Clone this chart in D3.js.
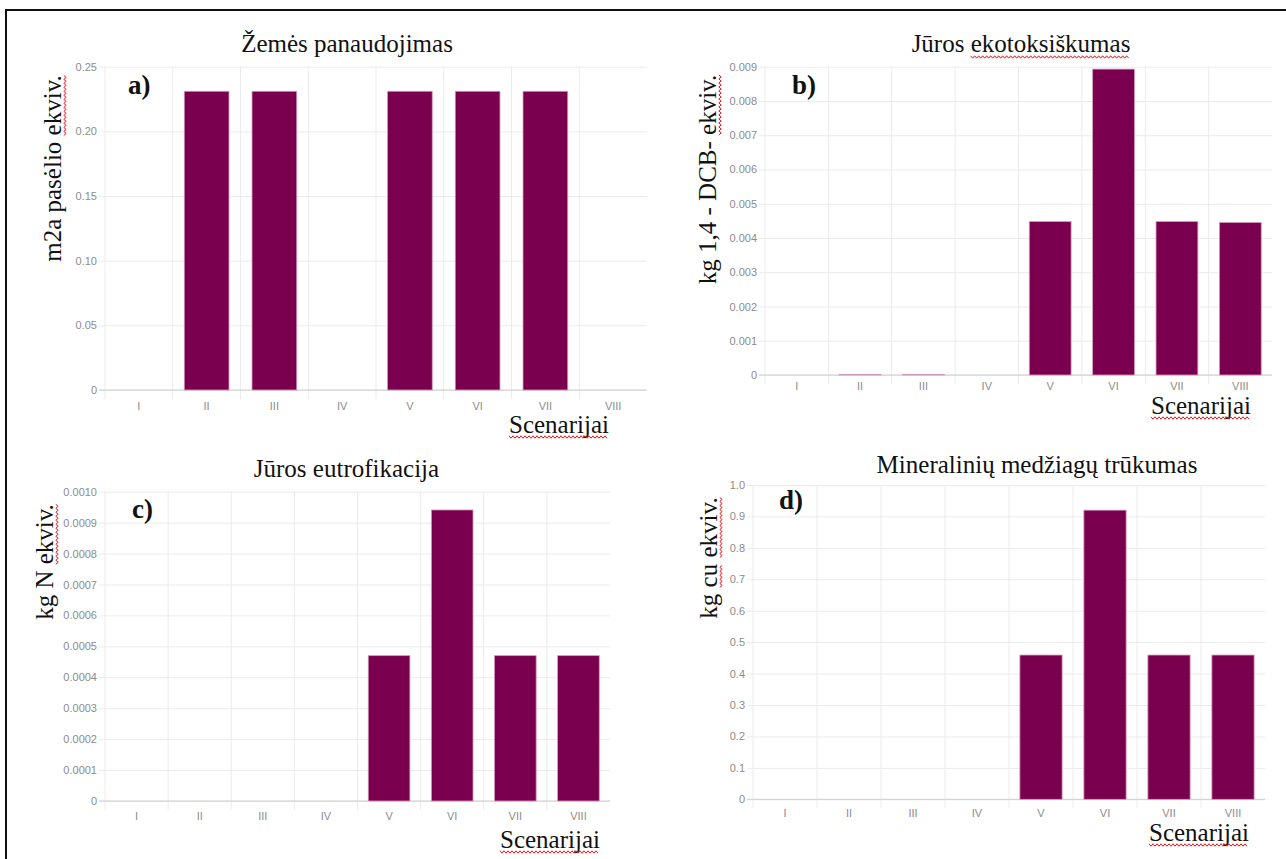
<!DOCTYPE html><head><meta charset="utf-8">
<title>LCA scenarijai</title>
<style type="text/css">
body { margin: 0; background: white; }
svg { display: block; }
.tick text { font-family: "Liberation Sans", Arial, sans-serif; fill: #8c8c8c; }
.serif { font-family: "Liberation Serif", "Times New Roman", serif; fill: #111; }
</style>
<script type="text/javascript" src="https://cdn.jsdelivr.net/npm/d3@7/dist/d3.min.js"></script>
</head><body>
<svg id="chart" width="1286" height="859"></svg>

<script type="text/javascript">

// ---- data ----
var categories = ["I", "II", "III", "IV", "V", "VI", "VII", "VIII"];

var landUse      = [0, 0.231, 0.231, 0, 0.231, 0.231, 0.231, 0];
var marineEcotox = [0, 0.00002, 0.00002, 0, 0.00448, 0.00893, 0.00448, 0.00445];
var marineEutro  = [0, 0, 0, 0, 0.00047, 0.000941, 0.00047, 0.00047];
var mineralDepl  = [0, 0, 0, 0, 0.459, 0.920, 0.459, 0.459];

var ticksA = [0, 0.05, 0.10, 0.15, 0.20, 0.25];
var tickLabelsA = ["0", "0.05", "0.10", "0.15", "0.20", "0.25"];
var ticksB = [0, 0.001, 0.002, 0.003, 0.004, 0.005, 0.006, 0.007, 0.008, 0.009];
var tickLabelsB = ["0", "0.001", "0.002", "0.003", "0.004", "0.005", "0.006", "0.007", "0.008", "0.009"];
var ticksC = [0, 0.0001, 0.0002, 0.0003, 0.0004, 0.0005, 0.0006, 0.0007, 0.0008, 0.0009, 0.0010];
var tickLabelsC = ["0", "0.0001", "0.0002", "0.0003", "0.0004", "0.0005", "0.0006", "0.0007", "0.0008", "0.0009", "0.0010"];
var ticksD = [0, 0.1, 0.2, 0.3, 0.4, 0.5, 0.6, 0.7, 0.8, 0.9, 1.0];
var tickLabelsD = ["0", "0.1", "0.2", "0.3", "0.4", "0.5", "0.6", "0.7", "0.8", "0.9", "1.0"];

var titles = ["Žemės panaudojimas", "Jūros ekotoksiškumas", "Jūros eutrofikacija", "Mineralinių medžiagų trūkumas"];
var yLabels = ["m2a pasėlio ekviv.", "kg 1,4 - DCB- ekviv.", "kg N ekviv.", "kg cu ekviv."];
var panelTags = ["a)", "b)", "c)", "d)"];
var xLabel = "Scenarijai";

// ---- layout (pixels) ----
var panels = [
  { values: landUse, ticks: ticksA, labels: tickLabelsA, yMax: 0.25,
    plot: {left: 105, right: 647, top: 66.7, bottom: 390},
    title: [347, 52], ylab: [61, 168.5], tag: [128, 94], scen: [509, 433], tickY: 410,
    titleWaves: [], ylabWaves: [[12, 18]] },
  { values: marineEcotox, ticks: ticksB, labels: tickLabelsB, yMax: 0.009,
    plot: {left: 765, right: 1272, top: 66.7, bottom: 375},
    title: [1021, 52], ylab: [716, 179.5], tag: [792, 94], scen: [1151, 414], tickY: 390,
    titleWaves: [[6, 20]], ylabWaves: [[14, 20]] },
  { values: marineEutro, ticks: ticksC, labels: tickLabelsC, yMax: 0.0010,
    plot: {left: 105, right: 610, top: 491.7, bottom: 801},
    title: [346.5, 477], ylab: [53, 562], tag: [132, 518], scen: [500, 848], tickY: 820,
    titleWaves: [], ylabWaves: [[5, 11]] },
  { values: mineralDepl, ticks: ticksD, labels: tickLabelsD, yMax: 1.0,
    plot: {left: 753, right: 1265, top: 485, bottom: 799.3},
    title: [1037, 473], ylab: [717, 558], tag: [779, 509], scen: [1149, 841], tickY: 817,
    titleWaves: [], ylabWaves: [[3, 5], [6, 12]] }
];

var barColor = "#7a004f";
var svg = d3.select("#chart");

svg.append("rect").attr("width", 1286).attr("height", 859).attr("fill", "white");

// outer frame (only top and left edges are visible in the picture)
svg.append("path")
  .attr("d", "M6,870 L6,10 L1290,10")
  .attr("fill", "none").attr("stroke", "#111").attr("stroke-width", 2);

// red spell-check squiggle under a range of characters of a text node
function squiggle(parent, node, from, to, dy) {
  var x0 = node.getStartPositionOfChar(from).x;
  var x1 = node.getEndPositionOfChar(to - 1).x;
  var y0 = node.getStartPositionOfChar(from).y + dy;
  var pts = [];
  var up = true;
  for (var x = x0; x <= x1; x += 2) {
    pts.push([x, y0 + (up ? -1.2 : 1.2)]);
    up = !up;
  }
  parent.append("path")
    .attr("d", d3.line()(pts))
    .attr("fill", "none").attr("stroke", "#e8141c").attr("stroke-width", 1);
}

panels.forEach(function(p, k) {
  var g = svg.append("g");
  var w = p.plot.right - p.plot.left;

  var x = d3.scaleBand().domain(categories)
    .range([p.plot.left, p.plot.right])
    .paddingInner(0.34).paddingOuter(0.17);
  var y = d3.scaleLinear().domain([0, p.yMax]).range([p.plot.bottom, p.plot.top]);

  // horizontal grid lines, reaching a little left of the plot
  g.append("g")
    .attr("transform", "translate(" + p.plot.left + ",0)")
    .call(d3.axisLeft(y).tickValues(p.ticks).tickFormat("").tickSizeInner(-w).tickSizeOuter(0))
    .call(function(a) {
      a.select(".domain").remove();
      a.selectAll("line").attr("stroke", "#ebebeb").attr("x1", -6);
    });

  // vertical grid lines at band starts, with tick stubs below the axis
  var half = x.step() * x.paddingInner() / 2;
  g.selectAll("line.vgrid").data(categories).join("line").attr("class", "vgrid")
    .attr("x1", function(d) { return x(d) - half; })
    .attr("x2", function(d) { return x(d) - half; })
    .attr("y1", p.plot.top).attr("y2", p.plot.bottom + 9)
    .attr("stroke", "#ebebeb");

  // zero line
  g.append("line")
    .attr("x1", p.plot.left - 6).attr("x2", p.plot.right)
    .attr("y1", y(0)).attr("y2", y(0))
    .attr("stroke", "#cdcdcd");

  // y tick labels
  g.append("g")
    .attr("transform", "translate(" + p.plot.left + ",0)")
    .call(d3.axisLeft(y).tickValues(p.ticks)
      .tickFormat(function(d, i) { return p.labels[i]; })
      .tickSize(0).tickPadding(8))
    .call(function(a) {
      a.select(".domain").remove();
      a.selectAll("text").style("font-size", "11px");
    });

  // x tick labels
  g.append("g")
    .attr("transform", "translate(0," + (p.tickY - 8) + ")")
    .call(d3.axisBottom(x).tickSize(0).tickPadding(0))
    .call(function(a) {
      a.select(".domain").remove();
      a.selectAll("text").attr("dy", 0).attr("y", 8).style("font-size", "11px");
    });

  // bars
  g.selectAll("rect.bar").data(p.values).join("rect").attr("class", "bar")
    .attr("x", function(d, i) { return x(categories[i]); })
    .attr("width", x.bandwidth())
    .attr("y", function(d) { return y(d); })
    .attr("height", function(d) { return y(0) - y(d); })
    .attr("fill", barColor)
    .attr("stroke", function(d) { return d > 0 ? "#d49bbd" : "none"; })
    .attr("stroke-width", 0.8);

  // title
  var t = g.append("text").attr("class", "serif")
    .attr("x", p.title[0]).attr("y", p.title[1])
    .attr("text-anchor", "middle").style("font-size", "25px")
    .text(titles[k]);
  p.titleWaves.forEach(function(r) { squiggle(g, t.node(), r[0], r[1], 5); });

  // y axis label
  var yl = g.append("g").attr("transform", "translate(" + p.ylab[0] + "," + p.ylab[1] + ") rotate(-90)");
  var yt = yl.append("text").attr("class", "serif")
    .attr("text-anchor", "middle").style("font-size", "25px")
    .text(yLabels[k]);
  p.ylabWaves.forEach(function(r) { squiggle(yl, yt.node(), r[0], r[1], 4); });

  // panel tag
  g.append("text").attr("class", "serif")
    .attr("x", p.tag[0]).attr("y", p.tag[1])
    .style("font-size", "27px").style("font-weight", "bold")
    .text(panelTags[k]);

  // x axis label
  var s = g.append("text").attr("class", "serif")
    .attr("x", p.scen[0]).attr("y", p.scen[1])
    .style("font-size", "25px")
    .text(xLabel);
  squiggle(g, s.node(), 0, xLabel.length, 4);
});

</script>
</body></html>
